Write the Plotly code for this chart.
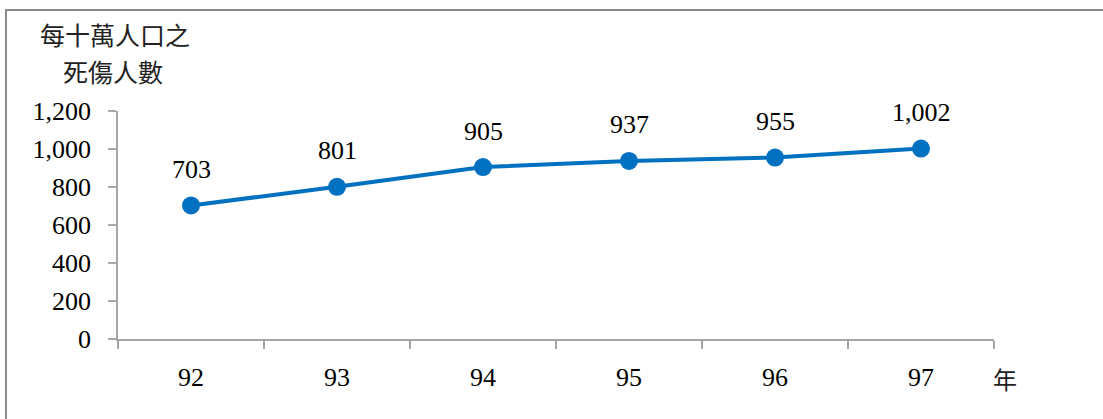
import plotly.graph_objects as go

years = ["92", "93", "94", "95", "96", "97"]
values = [703, 801, 905, 937, 955, 1002]
y_ticks = [0, 200, 400, 600, 800, 1000, 1200]
y_tick_labels = ["0", "200", "400", "600", "800", "1,000", "1,200"]

L, R, T, B = 118, 109, 111, 80
W, H = 1103, 419
pw, ph = W - L - R, H - T - B

def px(x):
    return (x - L) / pw

def py(y):
    return (H - B - y) / ph

fig = go.Figure()
fig.add_trace(go.Scatter(
    x=years, y=values, mode="lines+markers",
    line=dict(color="#0070C0", width=4),
    marker=dict(color="#0070C0", size=18),
    hoverinfo="skip", showlegend=False, cliponaxis=False,
))

for i, yv in enumerate(values):
    fig.add_annotation(x=i, y=yv, xref="x", yref="y", text=f"{yv:,}", showarrow=False, yshift=36,
                       font=dict(family="Liberation Serif", size=26, color="black"))

cjk = "Noto Sans CJK TC"
fig.add_annotation(xref="paper", yref="paper", x=px(115), y=py(34), text="每十萬人口之",
                   showarrow=False, xanchor="center", yanchor="middle",
                   font=dict(family=cjk, size=25, color="#222"))
fig.add_annotation(xref="paper", yref="paper", x=px(113), y=py(71), text="死傷人數",
                   showarrow=False, xanchor="center", yanchor="middle",
                   font=dict(family=cjk, size=25, color="#222"))
fig.add_annotation(xref="paper", yref="paper", x=px(1005), y=py(378), text="年",
                   showarrow=False, xanchor="center", yanchor="middle",
                   font=dict(family=cjk, size=24, color="#222"))

# outer border (top and left visible)
fig.add_shape(type="rect", xref="paper", yref="paper",
              x0=px(6), y0=py(440), x1=px(1120), y1=py(10),
              line=dict(color="#8c8c8c", width=2), layer="below")

fig.update_layout(
    width=W, height=H,
    margin=dict(l=L, r=R, t=T, b=B),
    plot_bgcolor="white", paper_bgcolor="white",
    font=dict(family="Liberation Serif", size=26, color="black"),
)
fig.update_xaxes(
    type="category", range=[-0.5, 5.5], tickson="boundaries",
    showline=True, linecolor="#a6a6a6", linewidth=1.5,
    ticks="outside", ticklen=8, tickcolor="#a6a6a6", tickwidth=1.5,
    showgrid=False, zeroline=False, ticklabelstandoff=14,
)
fig.update_yaxes(
    range=[0, 1200], tickvals=y_ticks, ticktext=y_tick_labels,
    showline=True, linecolor="#a6a6a6", linewidth=1.5,
    ticks="outside", ticklen=8, tickcolor="#a6a6a6", tickwidth=1.5,
    showgrid=False, zeroline=False, ticklabelstandoff=12,
)

fig.write_html("out.html")
